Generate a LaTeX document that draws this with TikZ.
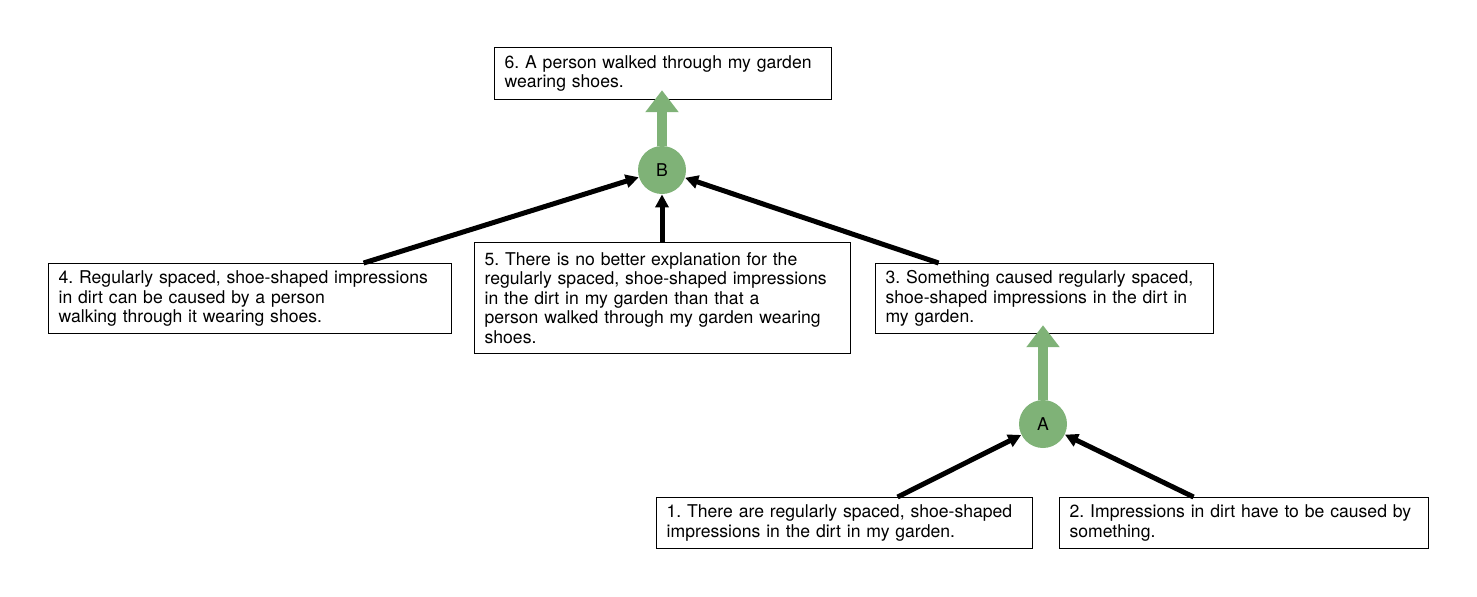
\documentclass[tikz,border=0pt]{standalone}
\usepackage{fontspec}
\setmainfont{TeX Gyre Heros}
\usetikzlibrary{arrows.meta}
\definecolor{argGreen}{RGB}{127,178,119}
\tikzset{
  claim/.style={draw=black, line width=0.6pt, anchor=north west, align=left,
    inner xsep=5pt, inner ysep=0pt, font=\fontsize{8.8}{9.75}\selectfont\frenchspacing},
  hub/.style={circle, fill=argGreen, minimum size=24pt, inner sep=0pt,
    font=\fontsize{8.8}{9.75}\selectfont},
  support/.style={line width=2.5pt, -{Triangle[length=6.5pt,width=6.5pt]}},
  concl/.style={draw=argGreen, line width=5pt, -{Triangle[length=11pt,width=16pt]}}
}
\begin{document}
\begin{tikzpicture}[x=0.5pt,y=-0.5pt]
\useasboundingbox (0,0) rectangle (1477,596);
\node[claim, text width=158.5pt, minimum height=26pt] (c6) at (494,47)
  {6. A person walked through my garden\\wearing shoes.};
\node[claim, text width=191.5pt, minimum height=35pt] (c4) at (48,263)
  {4. Regularly spaced, shoe-shaped impressions\\in dirt can be caused by a person\\walking through it wearing shoes.};
\node[claim, text width=178pt, minimum height=55.5pt] (c5) at (474,242)
  {5. There is no better explanation for the\\regularly spaced, shoe-shaped impressions\\in the dirt in my garden than that a\\person walked through my garden wearing\\shoes.};
\node[claim, text width=159pt, minimum height=35pt] (c3) at (875,263)
  {3. Something caused regularly spaced,\\shoe-shaped impressions in the dirt in\\my garden.};
\node[claim, text width=178pt, minimum height=25.5pt] (c1) at (656,497)
  {1. There are regularly spaced, shoe-shaped\\impressions in the dirt in my garden.};
\node[claim, text width=174.5pt, minimum height=25.5pt] (c2) at (1059,497)
  {2. Impressions in dirt have to be caused by\\something.};
\node[hub] (B) at (662,170) {B};
\node[hub] (A) at (1043,424) {A};
\draw[concl] (B.north) -- ([yshift=5pt]c6.south -| B);
\draw[concl] (A.north) -- ([yshift=4.5pt]c3.south -| A);
\draw[support] ([xshift=56.75pt]c4.north) -- (B);
\draw[support] (c5.north -| B) -- (B);
\draw[support] ([xshift=-53pt]c3.north) -- (B);
\draw[support] ([xshift=26.5pt]c1.north) -- (A);
\draw[support] ([xshift=-25.25pt]c2.north) -- (A);
\end{tikzpicture}
\end{document}
